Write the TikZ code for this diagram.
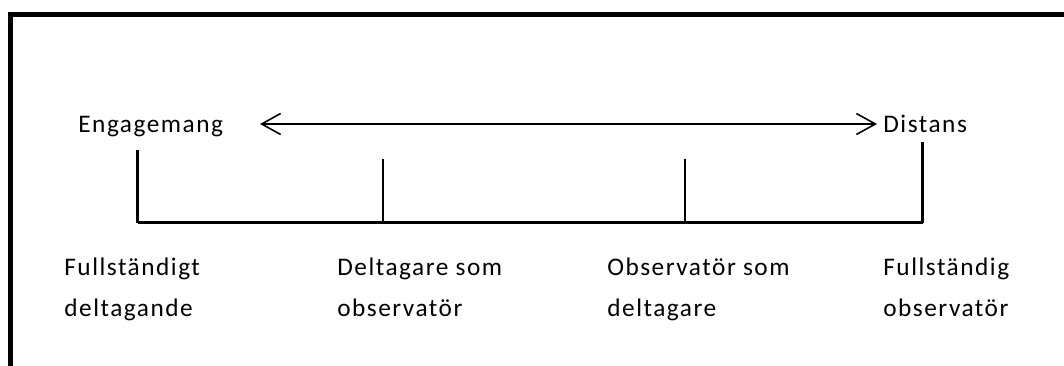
\documentclass[tikz,border=0pt]{standalone}
\usepackage{fontspec}
\setmainfont{Carlito}
\newfontfamily\labelfont[LetterSpace=6]{Carlito}
\usetikzlibrary{arrows.meta,positioning}
\newcommand{\AxisY}{2.85}
\tikzset{
  frame/.style={line width=2.8pt, line join=miter},
  axis/.style={line width=1.2pt},
  barb/.tip={Straight Barb[length=0.38cm, width=0.42cm]},
  spanArrow/.style={barb-barb, line width=0.9pt},
  pole/.style={font=\labelfont\fontsize{14.4}{16}\selectfont, inner sep=0pt, anchor=base west},
  role/.style={font=\labelfont\fontsize{14.4}{23.6}\selectfont, align=left, inner sep=0pt, anchor=base west}
}

\begin{document}
\begin{tikzpicture}
  \useasboundingbox (0,0) rectangle (21.28,7.3);
  % open frame (top and left edge)
  \draw[frame] (0.21,-0.2) -- (0.21,7.01) -- (21.6,7.01);
  % the two poles and the arrow between them
  \node[pole] (eng) at (1.56,4.65) {Engagemang};
  \node[pole] (dist) at (17.66,4.65) {Distans};
  \coordinate (arrL) at (5.2,4.82);
  \coordinate (arrR) at (17.54,4.82);
  \draw[spanArrow] (arrL) -- (arrR);
  % scale line with its four ticks
  \foreach \x/\h/\n in {2.75/1.45/a, 7.66/1.27/b, 13.7/1.27/c, 18.45/1.61/d}{
    \coordinate (tick\n) at (\x,\AxisY);
    \draw[axis] (tick\n) -- ++(0,\h);
  }
  \draw[axis] (ticka) -- (tickd);
  % roles along the scale (anchored on the second line)
  \node[role] (fullDelt) at (1.28,0.966) {Fullständigt\\deltagande};
  \node[role] (deltObs) at (6.74,0.966) {Deltagare som\\observatör};
  \node[role] (obsDelt) at (12.14,0.966) {Observatör som\\deltagare};
  \node[role] (fullObs) at (17.66,0.966) {Fullständig\\observatör};
\end{tikzpicture}
\end{document}
